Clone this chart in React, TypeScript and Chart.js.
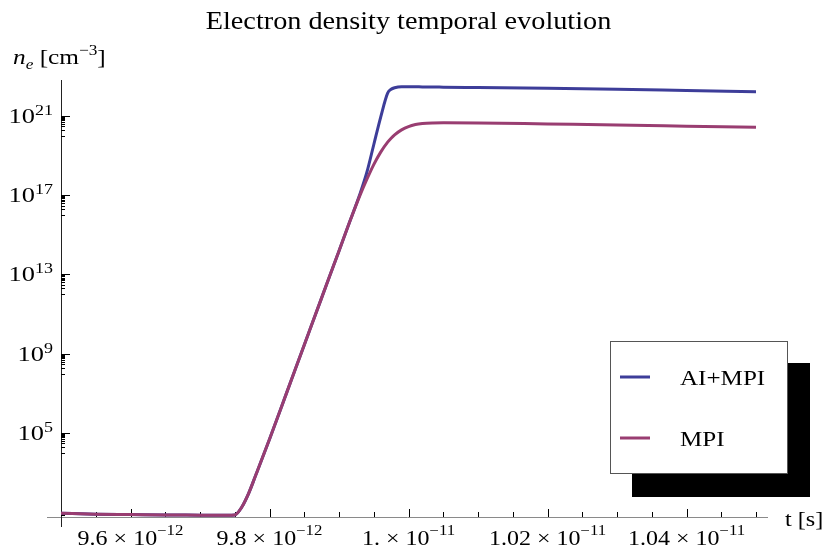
import React, { useEffect, useRef } from "react";
import { Chart, registerables } from "chart.js";

Chart.register(...registerables);

// ---------- data ----------
const TIMES = [
  9.5e-12, 9.55e-12, 9.6e-12, 9.65e-12, 9.7e-12, 9.74e-12, 9.75e-12, 9.76e-12, 9.77e-12, 9.78e-12,
  9.8e-12, 9.825e-12, 9.85e-12, 9.875e-12, 9.9e-12, 9.915e-12, 9.93e-12, 9.94e-12, 9.95e-12, 9.96e-12,
  9.97e-12, 9.975e-12, 9.98e-12, 9.99e-12, 1.0e-11, 1.001e-11, 1.002e-11, 1.0035e-11, 1.005e-11, 1.01e-11,
  1.02e-11, 1.03e-11, 1.04e-11, 1.05e-11,
];
const AI_MPI = [
  8.91, 7.94, 7.59, 7.24, 7.08, 6.92, 7.24, 17.8, 89.1, 708,
  4.79e4, 1.15e7, 2.75e9, 6.61e11, 1.55e14, 4.17e15, 1.12e17, 1.41e18, 3.55e19, 8.91e20,
  1.45e22, 2.24e22, 2.69e22, 3.02e22, 3.02e22, 3.02e22, 2.95e22, 2.95e22, 2.88e22, 2.75e22,
  2.51e22, 2.24e22, 1.95e22, 1.7e22,
];
const MPI = [
  8.91, 7.94, 7.59, 7.24, 7.08, 6.92, 7.24, 17.8, 89.1, 708,
  4.79e4, 1.15e7, 2.75e9, 6.61e11, 1.55e14, 4.17e15, 9.55e16, 6.31e17, 3.55e18, 1.51e19,
  4.79e19, 7.59e19, 1.12e20, 2.0e20, 2.95e20, 3.72e20, 4.17e20, 4.47e20, 4.57e20, 4.47e20,
  3.98e20, 3.55e20, 3.09e20, 2.69e20,
];
const SERIES_LABELS = ["AI+MPI", "MPI"];
const SERIES_COLORS = ["rgb(61,61,153)", "rgb(153,61,113)"];

const X_MIN = 9.5e-12;
const X_MAX = 1.05e-11;
const Y_MIN = 5.71;
const Y_MAX = 6.6e22;

const X_MAJOR = [9.6e-12, 9.8e-12, 1.0e-11, 1.02e-11, 1.04e-11];
const X_MAJOR_MANTISSA = ["9.6", "9.8", "1.", "1.02", "1.04"];
const X_MAJOR_EXP = ["\u221212", "\u221212", "\u221211", "\u221211", "\u221211"];
const X_MINOR = [
  9.55e-12, 9.65e-12, 9.7e-12, 9.75e-12, 9.85e-12, 9.9e-12, 9.95e-12, 1.005e-11,
  1.01e-11, 1.015e-11, 1.025e-11, 1.03e-11, 1.035e-11, 1.045e-11, 1.05e-11,
];
const Y_MAJOR_EXP = [1, 5, 9, 13, 17, 21];
const Y_LABEL_EXP = ["", "5", "9", "13", "17", "21"];
const Y_MINOR_MULT = [1, 2, 3, 4, 5, 6, 7, 8, 9];

const TITLE = "Electron density temporal evolution";

// ---------- drawing helpers ----------
const FONT = '"Liberation Serif", "Times New Roman", serif';
type Seg = { t: string; size: number; dy?: number; italic?: boolean };

function drawRich(
  ctx: CanvasRenderingContext2D,
  segs: Seg[],
  x: number,
  y: number,
  align: "left" | "center" | "right",
  sx: number
) {
  const widths = segs.map((s) => {
    ctx.font = `${s.italic ? "italic " : ""}${s.size}px ${FONT}`;
    return ctx.measureText(s.t).width * sx;
  });
  const total = widths.reduce((a, b) => a + b, 0);
  let cx = align === "center" ? x - total / 2 : align === "right" ? x - total : x;
  segs.forEach((s, i) => {
    ctx.font = `${s.italic ? "italic " : ""}${s.size}px ${FONT}`;
    ctx.save();
    ctx.translate(cx, y + (s.dy || 0));
    ctx.scale(sx, 1);
    ctx.textAlign = "left";
    ctx.textBaseline = "alphabetic";
    ctx.fillStyle = "#000";
    ctx.fillText(s.t, 0, 0);
    ctx.restore();
    cx += widths[i];
  });
}

function seg(ctx: CanvasRenderingContext2D, x1: number, y1: number, x2: number, y2: number) {
  ctx.beginPath();
  ctx.moveTo(x1, y1);
  ctx.lineTo(x2, y2);
  ctx.stroke();
}

const axesPlugin = {
  id: "mmaAxes",
  beforeDatasetsDraw(chart: any) {
    const { ctx, chartArea: a, scales } = chart;
    const xs = scales.x;
    const ys = scales.y;
    ctx.save();
    ctx.lineWidth = 1;
    // x axis (gray) with overhang
    ctx.strokeStyle = "#8a8a8a";
    seg(ctx, a.left - 14, a.bottom + 0.5, a.right + 12, a.bottom + 0.5);
    // y axis
    ctx.strokeStyle = "#222";
    seg(ctx, a.left + 0.5, a.top, a.left + 0.5, a.bottom + 10);
    // x ticks (inward)
    ctx.strokeStyle = "#000";
    X_MAJOR.forEach((v) => {
      const px = Math.round(xs.getPixelForValue(v)) + 0.5;
      seg(ctx, px, a.bottom, px, a.bottom - 8);
    });
    X_MINOR.forEach((v) => {
      const px = Math.round(xs.getPixelForValue(v)) + 0.5;
      seg(ctx, px, a.bottom, px, a.bottom - 5);
    });
    // y ticks (inward)
    Y_MAJOR_EXP.forEach((e) => {
      const py = Math.round(ys.getPixelForValue(Math.pow(10, e))) + 0.5;
      if (py <= a.bottom) seg(ctx, a.left, py, a.left + 9, py);
      Y_MINOR_MULT.forEach((m) => {
        const q = Math.round(ys.getPixelForValue(m * Math.pow(10, e - 1))) + 0.5;
        if (q < a.bottom - 1 && q > a.top) seg(ctx, a.left, q, a.left + 4, q);
      });
    });
    ctx.restore();
  },
  afterDraw(chart: any) {
    const { ctx, chartArea: a, scales } = chart;
    const xs = scales.x;
    const ys = scales.y;
    ctx.save();
    // title
    drawRich(ctx, [{ t: TITLE, size: 25 }], (a.left + a.right) / 2, 29, "center", 1.13);
    // y axis label
    drawRich(
      ctx,
      [
        { t: "n", size: 22, italic: true },
        { t: "e", size: 15, italic: true, dy: 5 },
        { t: " [cm", size: 22 },
        { t: "\u22123", size: 15, dy: -9 },
        { t: "]", size: 22 },
      ],
      13,
      64,
      "left",
      1.15
    );
    // x axis label
    drawRich(ctx, [{ t: "t [s]", size: 22 }], a.right + 29, 526, "left", 1.1);
    // y tick labels
    Y_MAJOR_EXP.forEach((e, i) => {
      if (!Y_LABEL_EXP[i]) return;
      const py = ys.getPixelForValue(Math.pow(10, e));
      drawRich(
        ctx,
        [
          { t: "10", size: 22 },
          { t: Y_LABEL_EXP[i], size: 15, dy: -8 },
        ],
        a.left - 8,
        py + 7,
        "right",
        1.2
      );
    });
    // x tick labels
    X_MAJOR.forEach((v, i) => {
      const px = xs.getPixelForValue(v);
      drawRich(
        ctx,
        [
          { t: X_MAJOR_MANTISSA[i] + " \u00d7 10", size: 20 },
          { t: X_MAJOR_EXP[i], size: 14, dy: -10 },
        ],
        px,
        a.bottom + 28,
        "center",
        1.2
      );
    });
    // legend with drop shadow
    const lx = a.right - 146;
    const ly = a.bottom - 176;
    const lw = 178;
    const lh = 133;
    ctx.fillStyle = "#000";
    ctx.fillRect(lx + 22, ly + 22, lw, lh + 1);
    ctx.fillStyle = "#fff";
    ctx.fillRect(lx, ly, lw, lh);
    ctx.strokeStyle = "#555";
    ctx.lineWidth = 1;
    ctx.strokeRect(lx + 0.5, ly + 0.5, lw - 1, lh - 1);
    chart.data.datasets.forEach((ds: any, i: number) => {
      const cy = ly + 36 + i * 61;
      ctx.strokeStyle = ds.borderColor;
      ctx.lineWidth = 3;
      seg(ctx, lx + 10, cy, lx + 40, cy);
      drawRich(ctx, [{ t: ds.label, size: 22 }], lx + 70, cy + 8, "left", 1.14);
    });
    ctx.restore();
  },
};

export default function App() {
  const ref = useRef<HTMLCanvasElement | null>(null);
  useEffect(() => {
    if (!ref.current) return;
    const mk = (vals: number[]) => TIMES.map((t, i) => ({ x: t, y: vals[i] }));
    const chart = new Chart(ref.current, {
      type: "line",
      data: {
        datasets: [
          {
            label: SERIES_LABELS[0],
            data: mk(AI_MPI),
            borderColor: SERIES_COLORS[0],
            backgroundColor: SERIES_COLORS[0],
            borderWidth: 3,
            pointRadius: 0,
            cubicInterpolationMode: "monotone",
            order: 1,
          },
          {
            label: SERIES_LABELS[1],
            data: mk(MPI),
            borderColor: SERIES_COLORS[1],
            backgroundColor: SERIES_COLORS[1],
            borderWidth: 3,
            pointRadius: 0,
            cubicInterpolationMode: "monotone",
            order: 0,
          },
        ],
      },
      options: {
        responsive: false,
        animation: false,
        layout: { padding: { left: 61, right: 70, top: 80, bottom: 35 } },
        plugins: {
          legend: { display: false },
          title: { display: false },
          tooltip: { enabled: false },
        },
        scales: {
          x: { type: "linear", min: X_MIN, max: X_MAX, display: false },
          y: { type: "logarithmic", min: Y_MIN, max: Y_MAX, display: false },
        },
      },
      plugins: [axesPlugin],
    });
    return () => chart.destroy();
  }, []);
  return (
    <div style={{ position: "absolute", left: 0, top: 0, width: 826, height: 552, background: "#fff" }}>
      <canvas ref={ref} width={826} height={552} style={{ display: "block" }} />
    </div>
  );
}
